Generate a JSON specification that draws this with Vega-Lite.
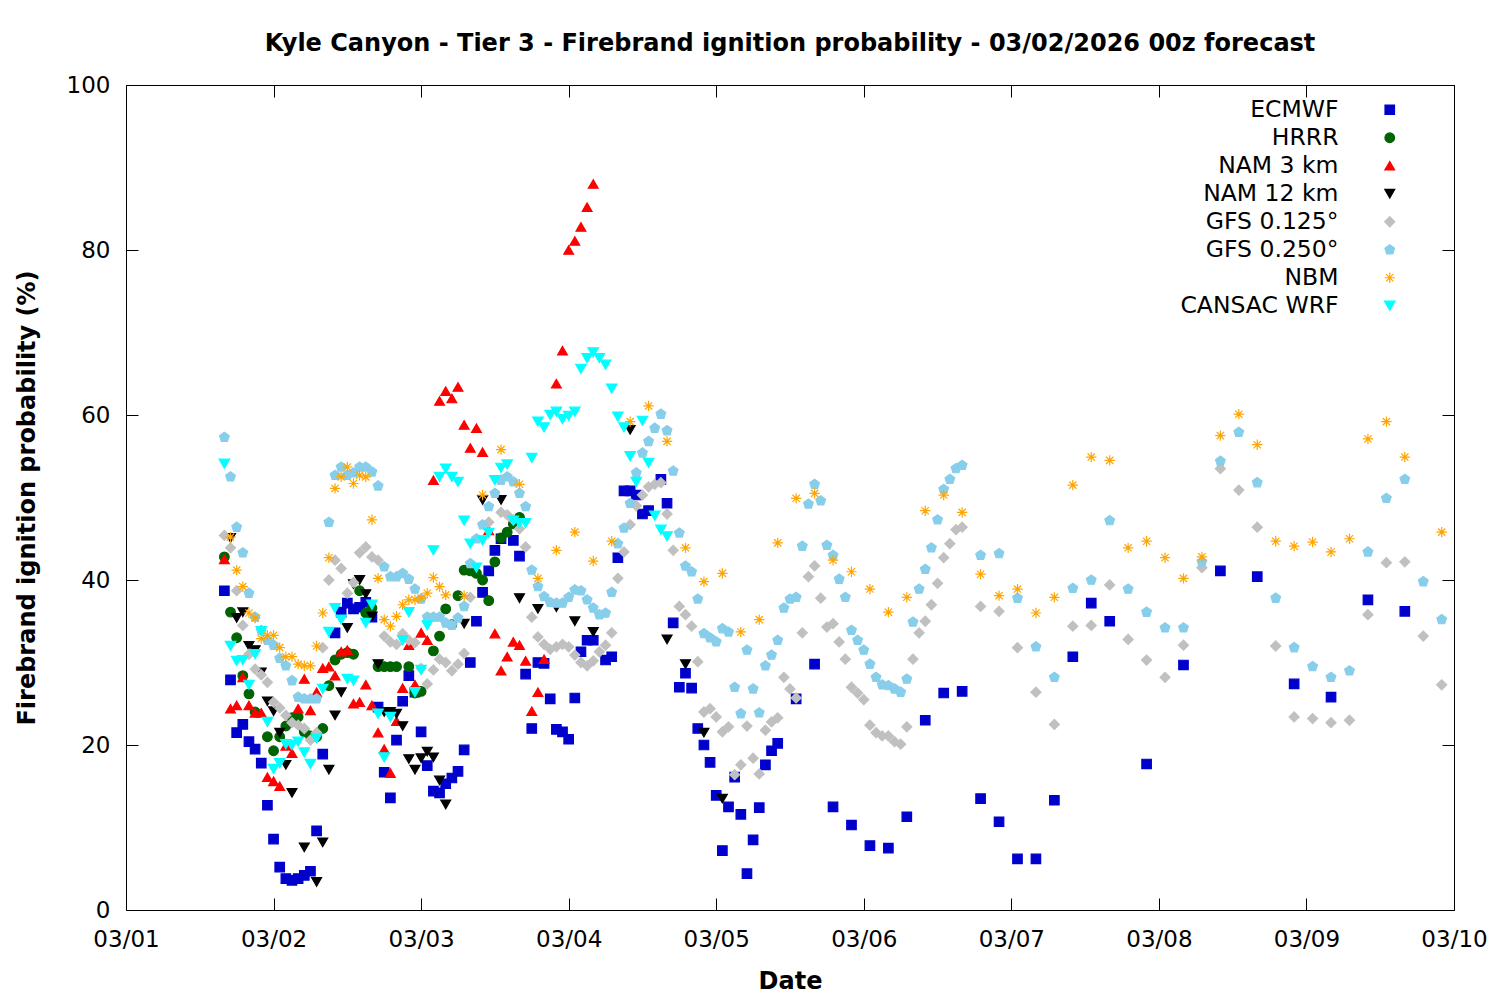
{
  "$schema": "https://vega.github.io/schema/vega-lite/v6.json",
  "width": 1328,
  "height": 825,
  "autosize": "none",
  "padding": {"left": 126, "top": 85, "right": 46, "bottom": 90},
  "background": "white",
  "title": {
    "text": "Kyle Canyon - Tier 3 - Firebrand ignition probability - 03/02/2026 00z forecast",
    "font": "DejaVu Sans",
    "fontSize": 24,
    "fontWeight": "bold",
    "color": "black",
    "anchor": "middle",
    "offset": 18
  },
  "config": {
    "font": "DejaVu Sans",
    "view": {"stroke": "black", "strokeWidth": 1},
    "axis": {
      "domain": false,
      "grid": false,
      "tickColor": "black",
      "tickSize": -12,
      "labelFlush": false,
      "labelColor": "black",
      "labelFont": "DejaVu Sans",
      "labelFontSize": 23,
      "titleColor": "black",
      "titleFont": "DejaVu Sans",
      "titleFontSize": 24,
      "titleFontWeight": "bold"
    },
    "legend": {
      "labelFont": "DejaVu Sans",
      "labelFontSize": 23.5,
      "labelColor": "black",
      "symbolStrokeWidth": 1.2
    }
  },
  "data": {
    "values": [
      {"model": "ECMWF", "hour": 16, "prob": 38.7}, {"model": "ECMWF", "hour": 17, "prob": 27.9}, {"model": "ECMWF", "hour": 18, "prob": 21.5}, {"model": "ECMWF", "hour": 19, "prob": 22.5}, {"model": "ECMWF", "hour": 20, "prob": 20.4}, {"model": "ECMWF", "hour": 21, "prob": 19.5}, {"model": "ECMWF", "hour": 22, "prob": 17.8}, {"model": "ECMWF", "hour": 23, "prob": 12.7}, {"model": "ECMWF", "hour": 24, "prob": 8.6}, {"model": "ECMWF", "hour": 25, "prob": 5.2}, {"model": "ECMWF", "hour": 26, "prob": 3.8}, {"model": "ECMWF", "hour": 27, "prob": 3.6}, {"model": "ECMWF", "hour": 28, "prob": 3.8}, {"model": "ECMWF", "hour": 29, "prob": 4.2}, {"model": "ECMWF", "hour": 30, "prob": 4.7}, {"model": "ECMWF", "hour": 31, "prob": 9.6}, {"model": "ECMWF", "hour": 32, "prob": 18.9}, {"model": "ECMWF", "hour": 34, "prob": 33.6}, {"model": "ECMWF", "hour": 35, "prob": 36.1}, {"model": "ECMWF", "hour": 36, "prob": 37.2}, {"model": "ECMWF", "hour": 37, "prob": 36.5}, {"model": "ECMWF", "hour": 38, "prob": 36.7}, {"model": "ECMWF", "hour": 39, "prob": 37.3}, {"model": "ECMWF", "hour": 40, "prob": 35.5}, {"model": "ECMWF", "hour": 41, "prob": 24.6}, {"model": "ECMWF", "hour": 42, "prob": 16.7}, {"model": "ECMWF", "hour": 43, "prob": 13.6}, {"model": "ECMWF", "hour": 44, "prob": 20.6}, {"model": "ECMWF", "hour": 45, "prob": 25.3}, {"model": "ECMWF", "hour": 46, "prob": 28.4}, {"model": "ECMWF", "hour": 47, "prob": 26.4}, {"model": "ECMWF", "hour": 48, "prob": 21.6}, {"model": "ECMWF", "hour": 49, "prob": 17.5}, {"model": "ECMWF", "hour": 50, "prob": 14.4}, {"model": "ECMWF", "hour": 51, "prob": 14.2}, {"model": "ECMWF", "hour": 52, "prob": 15.3}, {"model": "ECMWF", "hour": 53, "prob": 16}, {"model": "ECMWF", "hour": 54, "prob": 16.8}, {"model": "ECMWF", "hour": 55, "prob": 19.4}, {"model": "ECMWF", "hour": 56, "prob": 30}, {"model": "ECMWF", "hour": 57, "prob": 35}, {"model": "ECMWF", "hour": 58, "prob": 38.5}, {"model": "ECMWF", "hour": 59, "prob": 41.1}, {"model": "ECMWF", "hour": 60, "prob": 43.6}, {"model": "ECMWF", "hour": 61, "prob": 45}, {"model": "ECMWF", "hour": 63, "prob": 44.8}, {"model": "ECMWF", "hour": 64, "prob": 42.9}, {"model": "ECMWF", "hour": 65, "prob": 28.6}, {"model": "ECMWF", "hour": 66, "prob": 22}, {"model": "ECMWF", "hour": 67, "prob": 30}, {"model": "ECMWF", "hour": 68, "prob": 29.9}, {"model": "ECMWF", "hour": 69, "prob": 25.6}, {"model": "ECMWF", "hour": 70, "prob": 21.9}, {"model": "ECMWF", "hour": 71, "prob": 21.6}, {"model": "ECMWF", "hour": 72, "prob": 20.7}, {"model": "ECMWF", "hour": 73, "prob": 25.7}, {"model": "ECMWF", "hour": 74, "prob": 31.3}, {"model": "ECMWF", "hour": 75, "prob": 32.7}, {"model": "ECMWF", "hour": 76, "prob": 32.7}, {"model": "ECMWF", "hour": 78, "prob": 30.3}, {"model": "ECMWF", "hour": 79, "prob": 30.7}, {"model": "ECMWF", "hour": 80, "prob": 42.7}, {"model": "ECMWF", "hour": 81, "prob": 50.8}, {"model": "ECMWF", "hour": 82, "prob": 50.8}, {"model": "ECMWF", "hour": 83, "prob": 50.3}, {"model": "ECMWF", "hour": 84, "prob": 48}, {"model": "ECMWF", "hour": 85, "prob": 48.4}, {"model": "ECMWF", "hour": 87, "prob": 52.2}, {"model": "ECMWF", "hour": 88, "prob": 49.3}, {"model": "ECMWF", "hour": 89, "prob": 34.8}, {"model": "ECMWF", "hour": 90, "prob": 27}, {"model": "ECMWF", "hour": 91, "prob": 28.7}, {"model": "ECMWF", "hour": 92, "prob": 26.9}, {"model": "ECMWF", "hour": 93, "prob": 22}, {"model": "ECMWF", "hour": 94, "prob": 20}, {"model": "ECMWF", "hour": 95, "prob": 17.9}, {"model": "ECMWF", "hour": 96, "prob": 13.9}, {"model": "ECMWF", "hour": 97, "prob": 7.2}, {"model": "ECMWF", "hour": 98, "prob": 12.5}, {"model": "ECMWF", "hour": 99, "prob": 16.1}, {"model": "ECMWF", "hour": 100, "prob": 11.6}, {"model": "ECMWF", "hour": 101, "prob": 4.4}, {"model": "ECMWF", "hour": 102, "prob": 8.5}, {"model": "ECMWF", "hour": 103, "prob": 12.4}, {"model": "ECMWF", "hour": 104, "prob": 17.6}, {"model": "ECMWF", "hour": 105, "prob": 19.3}, {"model": "ECMWF", "hour": 106, "prob": 20.2}, {"model": "ECMWF", "hour": 109, "prob": 25.6}, {"model": "ECMWF", "hour": 112, "prob": 29.8}, {"model": "ECMWF", "hour": 115, "prob": 12.5}, {"model": "ECMWF", "hour": 118, "prob": 10.3}, {"model": "ECMWF", "hour": 121, "prob": 7.8}, {"model": "ECMWF", "hour": 124, "prob": 7.5}, {"model": "ECMWF", "hour": 127, "prob": 11.3}, {"model": "ECMWF", "hour": 130, "prob": 23}, {"model": "ECMWF", "hour": 133, "prob": 26.3}, {"model": "ECMWF", "hour": 136, "prob": 26.5}, {"model": "ECMWF", "hour": 139, "prob": 13.5}, {"model": "ECMWF", "hour": 142, "prob": 10.7}, {"model": "ECMWF", "hour": 145, "prob": 6.2}, {"model": "ECMWF", "hour": 148, "prob": 6.2}, {"model": "ECMWF", "hour": 151, "prob": 13.3}, {"model": "ECMWF", "hour": 154, "prob": 30.7}, {"model": "ECMWF", "hour": 157, "prob": 37.2}, {"model": "ECMWF", "hour": 160, "prob": 35}, {"model": "ECMWF", "hour": 166, "prob": 17.7}, {"model": "ECMWF", "hour": 172, "prob": 29.7}, {"model": "ECMWF", "hour": 178, "prob": 41.1}, {"model": "ECMWF", "hour": 184, "prob": 40.4}, {"model": "ECMWF", "hour": 190, "prob": 27.4}, {"model": "ECMWF", "hour": 196, "prob": 25.8}, {"model": "ECMWF", "hour": 202, "prob": 37.6}, {"model": "ECMWF", "hour": 208, "prob": 36.2},

      {"model": "HRRR", "hour": 16, "prob": 42.8}, {"model": "HRRR", "hour": 17, "prob": 36.1}, {"model": "HRRR", "hour": 18, "prob": 33}, {"model": "HRRR", "hour": 19, "prob": 28.4}, {"model": "HRRR", "hour": 20, "prob": 26.2}, {"model": "HRRR", "hour": 21, "prob": 24}, {"model": "HRRR", "hour": 23, "prob": 21}, {"model": "HRRR", "hour": 24, "prob": 19.3}, {"model": "HRRR", "hour": 25, "prob": 21}, {"model": "HRRR", "hour": 26, "prob": 22.3}, {"model": "HRRR", "hour": 27, "prob": 23.3}, {"model": "HRRR", "hour": 28, "prob": 23.4}, {"model": "HRRR", "hour": 29, "prob": 21.6}, {"model": "HRRR", "hour": 30, "prob": 21.1}, {"model": "HRRR", "hour": 31, "prob": 21}, {"model": "HRRR", "hour": 32, "prob": 22}, {"model": "HRRR", "hour": 33, "prob": 27.2}, {"model": "HRRR", "hour": 34, "prob": 30.3}, {"model": "HRRR", "hour": 35, "prob": 31}, {"model": "HRRR", "hour": 36, "prob": 31.2}, {"model": "HRRR", "hour": 37, "prob": 31}, {"model": "HRRR", "hour": 38, "prob": 38.7}, {"model": "HRRR", "hour": 39, "prob": 36}, {"model": "HRRR", "hour": 40, "prob": 36.6}, {"model": "HRRR", "hour": 41, "prob": 29.5}, {"model": "HRRR", "hour": 42, "prob": 29.5}, {"model": "HRRR", "hour": 43, "prob": 29.5}, {"model": "HRRR", "hour": 44, "prob": 29.5}, {"model": "HRRR", "hour": 46, "prob": 29.5}, {"model": "HRRR", "hour": 47, "prob": 26.3}, {"model": "HRRR", "hour": 48, "prob": 26.5}, {"model": "HRRR", "hour": 50, "prob": 31.4}, {"model": "HRRR", "hour": 51, "prob": 33.2}, {"model": "HRRR", "hour": 52, "prob": 36.5}, {"model": "HRRR", "hour": 53, "prob": 34.6}, {"model": "HRRR", "hour": 54, "prob": 38.1}, {"model": "HRRR", "hour": 55, "prob": 41.2}, {"model": "HRRR", "hour": 56, "prob": 41.1}, {"model": "HRRR", "hour": 57, "prob": 40.8}, {"model": "HRRR", "hour": 58, "prob": 40}, {"model": "HRRR", "hour": 59, "prob": 37.5}, {"model": "HRRR", "hour": 60, "prob": 42.2}, {"model": "HRRR", "hour": 61, "prob": 45.1}, {"model": "HRRR", "hour": 62, "prob": 45.8}, {"model": "HRRR", "hour": 63, "prob": 46.8}, {"model": "HRRR", "hour": 64, "prob": 47.6},

      {"model": "NAM 3 km", "hour": 16, "prob": 42.5}, {"model": "NAM 3 km", "hour": 17, "prob": 24.4}, {"model": "NAM 3 km", "hour": 18, "prob": 24.8}, {"model": "NAM 3 km", "hour": 19, "prob": 28.2}, {"model": "NAM 3 km", "hour": 20, "prob": 24.8}, {"model": "NAM 3 km", "hour": 21, "prob": 23.9}, {"model": "NAM 3 km", "hour": 22, "prob": 23.9}, {"model": "NAM 3 km", "hour": 23, "prob": 16.1}, {"model": "NAM 3 km", "hour": 24, "prob": 15.6}, {"model": "NAM 3 km", "hour": 25, "prob": 15}, {"model": "NAM 3 km", "hour": 26, "prob": 19.9}, {"model": "NAM 3 km", "hour": 27, "prob": 19}, {"model": "NAM 3 km", "hour": 28, "prob": 24.4}, {"model": "NAM 3 km", "hour": 29, "prob": 28}, {"model": "NAM 3 km", "hour": 30, "prob": 24.2}, {"model": "NAM 3 km", "hour": 31, "prob": 26.4}, {"model": "NAM 3 km", "hour": 32, "prob": 29.3}, {"model": "NAM 3 km", "hour": 33, "prob": 29.5}, {"model": "NAM 3 km", "hour": 34, "prob": 28.4}, {"model": "NAM 3 km", "hour": 35, "prob": 31.3}, {"model": "NAM 3 km", "hour": 36, "prob": 31.5}, {"model": "NAM 3 km", "hour": 37, "prob": 25}, {"model": "NAM 3 km", "hour": 38, "prob": 25.2}, {"model": "NAM 3 km", "hour": 39, "prob": 27.3}, {"model": "NAM 3 km", "hour": 40, "prob": 24.8}, {"model": "NAM 3 km", "hour": 41, "prob": 21.5}, {"model": "NAM 3 km", "hour": 42, "prob": 19.5}, {"model": "NAM 3 km", "hour": 43, "prob": 16.6}, {"model": "NAM 3 km", "hour": 44, "prob": 22.9}, {"model": "NAM 3 km", "hour": 45, "prob": 26.9}, {"model": "NAM 3 km", "hour": 46, "prob": 32.1}, {"model": "NAM 3 km", "hour": 47, "prob": 27.3}, {"model": "NAM 3 km", "hour": 48, "prob": 33.6}, {"model": "NAM 3 km", "hour": 49, "prob": 32.7}, {"model": "NAM 3 km", "hour": 50, "prob": 52.1}, {"model": "NAM 3 km", "hour": 51, "prob": 61.7}, {"model": "NAM 3 km", "hour": 52, "prob": 62.9}, {"model": "NAM 3 km", "hour": 53, "prob": 62}, {"model": "NAM 3 km", "hour": 54, "prob": 63.4}, {"model": "NAM 3 km", "hour": 55, "prob": 58.8}, {"model": "NAM 3 km", "hour": 56, "prob": 56}, {"model": "NAM 3 km", "hour": 57, "prob": 58.4}, {"model": "NAM 3 km", "hour": 58, "prob": 55.5}, {"model": "NAM 3 km", "hour": 59, "prob": 46}, {"model": "NAM 3 km", "hour": 60, "prob": 33.5}, {"model": "NAM 3 km", "hour": 61, "prob": 29}, {"model": "NAM 3 km", "hour": 62, "prob": 30.7}, {"model": "NAM 3 km", "hour": 63, "prob": 32.5}, {"model": "NAM 3 km", "hour": 64, "prob": 32.1}, {"model": "NAM 3 km", "hour": 65, "prob": 30.2}, {"model": "NAM 3 km", "hour": 66, "prob": 24.1}, {"model": "NAM 3 km", "hour": 67, "prob": 26.4}, {"model": "NAM 3 km", "hour": 68, "prob": 30.4}, {"model": "NAM 3 km", "hour": 70, "prob": 63.8}, {"model": "NAM 3 km", "hour": 71, "prob": 67.8}, {"model": "NAM 3 km", "hour": 72, "prob": 80}, {"model": "NAM 3 km", "hour": 73, "prob": 81.1}, {"model": "NAM 3 km", "hour": 74, "prob": 82.8}, {"model": "NAM 3 km", "hour": 75, "prob": 85.2}, {"model": "NAM 3 km", "hour": 76, "prob": 88},

      {"model": "NAM 12 km", "hour": 17, "prob": 45.1}, {"model": "NAM 12 km", "hour": 18, "prob": 35.4}, {"model": "NAM 12 km", "hour": 19, "prob": 36.1}, {"model": "NAM 12 km", "hour": 20, "prob": 32}, {"model": "NAM 12 km", "hour": 21, "prob": 31.5}, {"model": "NAM 12 km", "hour": 22, "prob": 28.8}, {"model": "NAM 12 km", "hour": 23, "prob": 25.3}, {"model": "NAM 12 km", "hour": 24, "prob": 24.1}, {"model": "NAM 12 km", "hour": 25, "prob": 21.5}, {"model": "NAM 12 km", "hour": 26, "prob": 17.6}, {"model": "NAM 12 km", "hour": 27, "prob": 14.2}, {"model": "NAM 12 km", "hour": 29, "prob": 7.6}, {"model": "NAM 12 km", "hour": 31, "prob": 3.4}, {"model": "NAM 12 km", "hour": 32, "prob": 8.2}, {"model": "NAM 12 km", "hour": 33, "prob": 17}, {"model": "NAM 12 km", "hour": 34, "prob": 23.6}, {"model": "NAM 12 km", "hour": 35, "prob": 26.4}, {"model": "NAM 12 km", "hour": 36, "prob": 34.2}, {"model": "NAM 12 km", "hour": 37, "prob": 39.5}, {"model": "NAM 12 km", "hour": 38, "prob": 40}, {"model": "NAM 12 km", "hour": 39, "prob": 38.3}, {"model": "NAM 12 km", "hour": 40, "prob": 35.6}, {"model": "NAM 12 km", "hour": 41, "prob": 29.8}, {"model": "NAM 12 km", "hour": 42, "prob": 24}, {"model": "NAM 12 km", "hour": 43, "prob": 24}, {"model": "NAM 12 km", "hour": 44, "prob": 23.8}, {"model": "NAM 12 km", "hour": 45, "prob": 22.3}, {"model": "NAM 12 km", "hour": 46, "prob": 18.3}, {"model": "NAM 12 km", "hour": 47, "prob": 17}, {"model": "NAM 12 km", "hour": 48, "prob": 18.4}, {"model": "NAM 12 km", "hour": 49, "prob": 19.2}, {"model": "NAM 12 km", "hour": 50, "prob": 18.5}, {"model": "NAM 12 km", "hour": 51, "prob": 15.7}, {"model": "NAM 12 km", "hour": 52, "prob": 12.8}, {"model": "NAM 12 km", "hour": 55, "prob": 34.7}, {"model": "NAM 12 km", "hour": 58, "prob": 49.7}, {"model": "NAM 12 km", "hour": 61, "prob": 49.7}, {"model": "NAM 12 km", "hour": 64, "prob": 37.8}, {"model": "NAM 12 km", "hour": 67, "prob": 36.5}, {"model": "NAM 12 km", "hour": 70, "prob": 36.7}, {"model": "NAM 12 km", "hour": 73, "prob": 35}, {"model": "NAM 12 km", "hour": 76, "prob": 33.7}, {"model": "NAM 12 km", "hour": 82, "prob": 58.2}, {"model": "NAM 12 km", "hour": 88, "prob": 32.8}, {"model": "NAM 12 km", "hour": 91, "prob": 29.8}, {"model": "NAM 12 km", "hour": 94, "prob": 21.5}, {"model": "NAM 12 km", "hour": 97, "prob": 13.5},

      {"model": "GFS 0.125°", "hour": 16, "prob": 45.4}, {"model": "GFS 0.125°", "hour": 17, "prob": 43.9}, {"model": "GFS 0.125°", "hour": 18, "prob": 38.7}, {"model": "GFS 0.125°", "hour": 19, "prob": 34.5}, {"model": "GFS 0.125°", "hour": 20, "prob": 31}, {"model": "GFS 0.125°", "hour": 21, "prob": 29.2}, {"model": "GFS 0.125°", "hour": 22, "prob": 28.5}, {"model": "GFS 0.125°", "hour": 23, "prob": 27.6}, {"model": "GFS 0.125°", "hour": 24, "prob": 25.2}, {"model": "GFS 0.125°", "hour": 25, "prob": 24.5}, {"model": "GFS 0.125°", "hour": 26, "prob": 23.6}, {"model": "GFS 0.125°", "hour": 27, "prob": 22.7}, {"model": "GFS 0.125°", "hour": 28, "prob": 22.4}, {"model": "GFS 0.125°", "hour": 29, "prob": 22}, {"model": "GFS 0.125°", "hour": 30, "prob": 20.6}, {"model": "GFS 0.125°", "hour": 31, "prob": 21.5}, {"model": "GFS 0.125°", "hour": 32, "prob": 31.8}, {"model": "GFS 0.125°", "hour": 33, "prob": 40}, {"model": "GFS 0.125°", "hour": 34, "prob": 42.4}, {"model": "GFS 0.125°", "hour": 35, "prob": 41.4}, {"model": "GFS 0.125°", "hour": 36, "prob": 38.4}, {"model": "GFS 0.125°", "hour": 37, "prob": 39.7}, {"model": "GFS 0.125°", "hour": 38, "prob": 43.3}, {"model": "GFS 0.125°", "hour": 39, "prob": 44}, {"model": "GFS 0.125°", "hour": 40, "prob": 42.8}, {"model": "GFS 0.125°", "hour": 41, "prob": 42.4}, {"model": "GFS 0.125°", "hour": 42, "prob": 33.2}, {"model": "GFS 0.125°", "hour": 43, "prob": 32.5}, {"model": "GFS 0.125°", "hour": 44, "prob": 32.2}, {"model": "GFS 0.125°", "hour": 45, "prob": 33.5}, {"model": "GFS 0.125°", "hour": 46, "prob": 32.7}, {"model": "GFS 0.125°", "hour": 47, "prob": 32.4}, {"model": "GFS 0.125°", "hour": 48, "prob": 29.3}, {"model": "GFS 0.125°", "hour": 49, "prob": 27.4}, {"model": "GFS 0.125°", "hour": 50, "prob": 29.1}, {"model": "GFS 0.125°", "hour": 51, "prob": 30.4}, {"model": "GFS 0.125°", "hour": 52, "prob": 30}, {"model": "GFS 0.125°", "hour": 53, "prob": 29}, {"model": "GFS 0.125°", "hour": 54, "prob": 29.8}, {"model": "GFS 0.125°", "hour": 55, "prob": 31.1}, {"model": "GFS 0.125°", "hour": 56, "prob": 37.9}, {"model": "GFS 0.125°", "hour": 59, "prob": 47}, {"model": "GFS 0.125°", "hour": 61, "prob": 48.2}, {"model": "GFS 0.125°", "hour": 62, "prob": 47.9}, {"model": "GFS 0.125°", "hour": 63, "prob": 47.3}, {"model": "GFS 0.125°", "hour": 64, "prob": 46.2}, {"model": "GFS 0.125°", "hour": 65, "prob": 44}, {"model": "GFS 0.125°", "hour": 66, "prob": 35.5}, {"model": "GFS 0.125°", "hour": 67, "prob": 33.1}, {"model": "GFS 0.125°", "hour": 68, "prob": 32.2}, {"model": "GFS 0.125°", "hour": 69, "prob": 31.6}, {"model": "GFS 0.125°", "hour": 70, "prob": 31.9}, {"model": "GFS 0.125°", "hour": 71, "prob": 32.2}, {"model": "GFS 0.125°", "hour": 72, "prob": 31.9}, {"model": "GFS 0.125°", "hour": 73, "prob": 30.9}, {"model": "GFS 0.125°", "hour": 74, "prob": 30}, {"model": "GFS 0.125°", "hour": 75, "prob": 29.6}, {"model": "GFS 0.125°", "hour": 76, "prob": 30.2}, {"model": "GFS 0.125°", "hour": 77, "prob": 31.3}, {"model": "GFS 0.125°", "hour": 78, "prob": 32.1}, {"model": "GFS 0.125°", "hour": 79, "prob": 33.6}, {"model": "GFS 0.125°", "hour": 80, "prob": 40.2}, {"model": "GFS 0.125°", "hour": 81, "prob": 43.4}, {"model": "GFS 0.125°", "hour": 82, "prob": 46.7}, {"model": "GFS 0.125°", "hour": 83, "prob": 49}, {"model": "GFS 0.125°", "hour": 84, "prob": 50.3}, {"model": "GFS 0.125°", "hour": 85, "prob": 51.3}, {"model": "GFS 0.125°", "hour": 86, "prob": 51.6}, {"model": "GFS 0.125°", "hour": 87, "prob": 51.8}, {"model": "GFS 0.125°", "hour": 88, "prob": 48}, {"model": "GFS 0.125°", "hour": 89, "prob": 43.6}, {"model": "GFS 0.125°", "hour": 90, "prob": 36.8}, {"model": "GFS 0.125°", "hour": 91, "prob": 35.8}, {"model": "GFS 0.125°", "hour": 92, "prob": 34.4}, {"model": "GFS 0.125°", "hour": 93, "prob": 30.1}, {"model": "GFS 0.125°", "hour": 94, "prob": 24}, {"model": "GFS 0.125°", "hour": 95, "prob": 24.4}, {"model": "GFS 0.125°", "hour": 96, "prob": 23.4}, {"model": "GFS 0.125°", "hour": 97, "prob": 21.6}, {"model": "GFS 0.125°", "hour": 98, "prob": 22.2}, {"model": "GFS 0.125°", "hour": 99, "prob": 16.4}, {"model": "GFS 0.125°", "hour": 100, "prob": 17.6}, {"model": "GFS 0.125°", "hour": 101, "prob": 22.3}, {"model": "GFS 0.125°", "hour": 102, "prob": 18.4}, {"model": "GFS 0.125°", "hour": 103, "prob": 16.5}, {"model": "GFS 0.125°", "hour": 104, "prob": 21.8}, {"model": "GFS 0.125°", "hour": 105, "prob": 22.8}, {"model": "GFS 0.125°", "hour": 106, "prob": 23.3}, {"model": "GFS 0.125°", "hour": 107, "prob": 28.2}, {"model": "GFS 0.125°", "hour": 108, "prob": 26.8}, {"model": "GFS 0.125°", "hour": 109, "prob": 25.7}, {"model": "GFS 0.125°", "hour": 110, "prob": 33.6}, {"model": "GFS 0.125°", "hour": 111, "prob": 40.4}, {"model": "GFS 0.125°", "hour": 112, "prob": 41.7}, {"model": "GFS 0.125°", "hour": 113, "prob": 37.8}, {"model": "GFS 0.125°", "hour": 114, "prob": 34.3}, {"model": "GFS 0.125°", "hour": 115, "prob": 34.7}, {"model": "GFS 0.125°", "hour": 116, "prob": 32.5}, {"model": "GFS 0.125°", "hour": 117, "prob": 30.4}, {"model": "GFS 0.125°", "hour": 118, "prob": 27}, {"model": "GFS 0.125°", "hour": 119, "prob": 26.3}, {"model": "GFS 0.125°", "hour": 120, "prob": 25.5}, {"model": "GFS 0.125°", "hour": 121, "prob": 22.4}, {"model": "GFS 0.125°", "hour": 122, "prob": 21.5}, {"model": "GFS 0.125°", "hour": 123, "prob": 21.1}, {"model": "GFS 0.125°", "hour": 124, "prob": 21.1}, {"model": "GFS 0.125°", "hour": 125, "prob": 20.4}, {"model": "GFS 0.125°", "hour": 126, "prob": 20.1}, {"model": "GFS 0.125°", "hour": 127, "prob": 22.2}, {"model": "GFS 0.125°", "hour": 128, "prob": 30.4}, {"model": "GFS 0.125°", "hour": 129, "prob": 33.6}, {"model": "GFS 0.125°", "hour": 130, "prob": 35}, {"model": "GFS 0.125°", "hour": 131, "prob": 37}, {"model": "GFS 0.125°", "hour": 132, "prob": 39.6}, {"model": "GFS 0.125°", "hour": 133, "prob": 42.7}, {"model": "GFS 0.125°", "hour": 134, "prob": 44.4}, {"model": "GFS 0.125°", "hour": 135, "prob": 46.1}, {"model": "GFS 0.125°", "hour": 136, "prob": 46.4}, {"model": "GFS 0.125°", "hour": 139, "prob": 36.8}, {"model": "GFS 0.125°", "hour": 142, "prob": 36.2}, {"model": "GFS 0.125°", "hour": 145, "prob": 31.8}, {"model": "GFS 0.125°", "hour": 148, "prob": 26.4}, {"model": "GFS 0.125°", "hour": 151, "prob": 22.5}, {"model": "GFS 0.125°", "hour": 154, "prob": 34.4}, {"model": "GFS 0.125°", "hour": 157, "prob": 34.5}, {"model": "GFS 0.125°", "hour": 160, "prob": 39.4}, {"model": "GFS 0.125°", "hour": 163, "prob": 32.8}, {"model": "GFS 0.125°", "hour": 166, "prob": 30.3}, {"model": "GFS 0.125°", "hour": 169, "prob": 28.2}, {"model": "GFS 0.125°", "hour": 172, "prob": 32.1}, {"model": "GFS 0.125°", "hour": 175, "prob": 41.5}, {"model": "GFS 0.125°", "hour": 178, "prob": 53.5}, {"model": "GFS 0.125°", "hour": 181, "prob": 50.9}, {"model": "GFS 0.125°", "hour": 184, "prob": 46.4}, {"model": "GFS 0.125°", "hour": 187, "prob": 32}, {"model": "GFS 0.125°", "hour": 190, "prob": 23.4}, {"model": "GFS 0.125°", "hour": 193, "prob": 23.2}, {"model": "GFS 0.125°", "hour": 196, "prob": 22.7}, {"model": "GFS 0.125°", "hour": 199, "prob": 23}, {"model": "GFS 0.125°", "hour": 202, "prob": 35.8}, {"model": "GFS 0.125°", "hour": 205, "prob": 42.1}, {"model": "GFS 0.125°", "hour": 208, "prob": 42.2}, {"model": "GFS 0.125°", "hour": 211, "prob": 33.2}, {"model": "GFS 0.125°", "hour": 214, "prob": 27.3},

      {"model": "GFS 0.250°", "hour": 16, "prob": 57.3}, {"model": "GFS 0.250°", "hour": 17, "prob": 52.5}, {"model": "GFS 0.250°", "hour": 18, "prob": 46.4}, {"model": "GFS 0.250°", "hour": 19, "prob": 43.3}, {"model": "GFS 0.250°", "hour": 20, "prob": 38.4}, {"model": "GFS 0.250°", "hour": 21, "prob": 35.5}, {"model": "GFS 0.250°", "hour": 22, "prob": 33.9}, {"model": "GFS 0.250°", "hour": 23, "prob": 32.7}, {"model": "GFS 0.250°", "hour": 24, "prob": 32.1}, {"model": "GFS 0.250°", "hour": 25, "prob": 30.5}, {"model": "GFS 0.250°", "hour": 26, "prob": 29.6}, {"model": "GFS 0.250°", "hour": 27, "prob": 27.8}, {"model": "GFS 0.250°", "hour": 28, "prob": 25.8}, {"model": "GFS 0.250°", "hour": 29, "prob": 25.6}, {"model": "GFS 0.250°", "hour": 30, "prob": 25.6}, {"model": "GFS 0.250°", "hour": 31, "prob": 25.6}, {"model": "GFS 0.250°", "hour": 33, "prob": 47}, {"model": "GFS 0.250°", "hour": 34, "prob": 52.7}, {"model": "GFS 0.250°", "hour": 35, "prob": 53.7}, {"model": "GFS 0.250°", "hour": 36, "prob": 52.7}, {"model": "GFS 0.250°", "hour": 37, "prob": 53}, {"model": "GFS 0.250°", "hour": 38, "prob": 53.7}, {"model": "GFS 0.250°", "hour": 39, "prob": 53.7}, {"model": "GFS 0.250°", "hour": 40, "prob": 53.1}, {"model": "GFS 0.250°", "hour": 41, "prob": 51.4}, {"model": "GFS 0.250°", "hour": 42, "prob": 41.6}, {"model": "GFS 0.250°", "hour": 43, "prob": 40.4}, {"model": "GFS 0.250°", "hour": 44, "prob": 40.4}, {"model": "GFS 0.250°", "hour": 45, "prob": 40.8}, {"model": "GFS 0.250°", "hour": 46, "prob": 40.1}, {"model": "GFS 0.250°", "hour": 47, "prob": 38.9}, {"model": "GFS 0.250°", "hour": 48, "prob": 37.7}, {"model": "GFS 0.250°", "hour": 49, "prob": 35.5}, {"model": "GFS 0.250°", "hour": 50, "prob": 35.5}, {"model": "GFS 0.250°", "hour": 51, "prob": 35.5}, {"model": "GFS 0.250°", "hour": 52, "prob": 34.8}, {"model": "GFS 0.250°", "hour": 53, "prob": 34.5}, {"model": "GFS 0.250°", "hour": 54, "prob": 35.4}, {"model": "GFS 0.250°", "hour": 55, "prob": 36.8}, {"model": "GFS 0.250°", "hour": 56, "prob": 42}, {"model": "GFS 0.250°", "hour": 57, "prob": 45}, {"model": "GFS 0.250°", "hour": 58, "prob": 46.7}, {"model": "GFS 0.250°", "hour": 59, "prob": 48.9}, {"model": "GFS 0.250°", "hour": 60, "prob": 50.5}, {"model": "GFS 0.250°", "hour": 61, "prob": 52.1}, {"model": "GFS 0.250°", "hour": 62, "prob": 52.5}, {"model": "GFS 0.250°", "hour": 63, "prob": 51.9}, {"model": "GFS 0.250°", "hour": 64, "prob": 50.5}, {"model": "GFS 0.250°", "hour": 65, "prob": 48.9}, {"model": "GFS 0.250°", "hour": 66, "prob": 41.2}, {"model": "GFS 0.250°", "hour": 67, "prob": 39.2}, {"model": "GFS 0.250°", "hour": 68, "prob": 38}, {"model": "GFS 0.250°", "hour": 69, "prob": 37.3}, {"model": "GFS 0.250°", "hour": 70, "prob": 37.2}, {"model": "GFS 0.250°", "hour": 71, "prob": 37.2}, {"model": "GFS 0.250°", "hour": 72, "prob": 37.9}, {"model": "GFS 0.250°", "hour": 73, "prob": 38.8}, {"model": "GFS 0.250°", "hour": 74, "prob": 38.7}, {"model": "GFS 0.250°", "hour": 75, "prob": 37.6}, {"model": "GFS 0.250°", "hour": 76, "prob": 36.6}, {"model": "GFS 0.250°", "hour": 77, "prob": 35.8}, {"model": "GFS 0.250°", "hour": 78, "prob": 36}, {"model": "GFS 0.250°", "hour": 79, "prob": 38.5}, {"model": "GFS 0.250°", "hour": 80, "prob": 44.4}, {"model": "GFS 0.250°", "hour": 81, "prob": 46.3}, {"model": "GFS 0.250°", "hour": 82, "prob": 49.3}, {"model": "GFS 0.250°", "hour": 83, "prob": 53}, {"model": "GFS 0.250°", "hour": 84, "prob": 55.4}, {"model": "GFS 0.250°", "hour": 85, "prob": 56.8}, {"model": "GFS 0.250°", "hour": 86, "prob": 58.4}, {"model": "GFS 0.250°", "hour": 87, "prob": 60.1}, {"model": "GFS 0.250°", "hour": 88, "prob": 58.1}, {"model": "GFS 0.250°", "hour": 89, "prob": 53.2}, {"model": "GFS 0.250°", "hour": 90, "prob": 45.7}, {"model": "GFS 0.250°", "hour": 91, "prob": 41.7}, {"model": "GFS 0.250°", "hour": 92, "prob": 41}, {"model": "GFS 0.250°", "hour": 93, "prob": 37.7}, {"model": "GFS 0.250°", "hour": 94, "prob": 33.5}, {"model": "GFS 0.250°", "hour": 95, "prob": 33}, {"model": "GFS 0.250°", "hour": 96, "prob": 32.5}, {"model": "GFS 0.250°", "hour": 97, "prob": 34.1}, {"model": "GFS 0.250°", "hour": 98, "prob": 33.7}, {"model": "GFS 0.250°", "hour": 99, "prob": 27}, {"model": "GFS 0.250°", "hour": 100, "prob": 23.8}, {"model": "GFS 0.250°", "hour": 101, "prob": 31.5}, {"model": "GFS 0.250°", "hour": 102, "prob": 26.8}, {"model": "GFS 0.250°", "hour": 103, "prob": 23.9}, {"model": "GFS 0.250°", "hour": 104, "prob": 29.6}, {"model": "GFS 0.250°", "hour": 105, "prob": 30.9}, {"model": "GFS 0.250°", "hour": 106, "prob": 32.7}, {"model": "GFS 0.250°", "hour": 107, "prob": 36.6}, {"model": "GFS 0.250°", "hour": 108, "prob": 37.7}, {"model": "GFS 0.250°", "hour": 109, "prob": 37.9}, {"model": "GFS 0.250°", "hour": 110, "prob": 44.1}, {"model": "GFS 0.250°", "hour": 111, "prob": 49.2}, {"model": "GFS 0.250°", "hour": 112, "prob": 51.6}, {"model": "GFS 0.250°", "hour": 113, "prob": 49.6}, {"model": "GFS 0.250°", "hour": 114, "prob": 44.2}, {"model": "GFS 0.250°", "hour": 115, "prob": 43}, {"model": "GFS 0.250°", "hour": 116, "prob": 40.1}, {"model": "GFS 0.250°", "hour": 117, "prob": 37.9}, {"model": "GFS 0.250°", "hour": 118, "prob": 33.9}, {"model": "GFS 0.250°", "hour": 119, "prob": 32.7}, {"model": "GFS 0.250°", "hour": 120, "prob": 31.5}, {"model": "GFS 0.250°", "hour": 121, "prob": 29.8}, {"model": "GFS 0.250°", "hour": 122, "prob": 28.2}, {"model": "GFS 0.250°", "hour": 123, "prob": 27.3}, {"model": "GFS 0.250°", "hour": 124, "prob": 27.2}, {"model": "GFS 0.250°", "hour": 125, "prob": 26.8}, {"model": "GFS 0.250°", "hour": 126, "prob": 26.4}, {"model": "GFS 0.250°", "hour": 127, "prob": 28}, {"model": "GFS 0.250°", "hour": 128, "prob": 34.9}, {"model": "GFS 0.250°", "hour": 129, "prob": 38.9}, {"model": "GFS 0.250°", "hour": 130, "prob": 41.3}, {"model": "GFS 0.250°", "hour": 131, "prob": 43.9}, {"model": "GFS 0.250°", "hour": 132, "prob": 47.3}, {"model": "GFS 0.250°", "hour": 133, "prob": 51}, {"model": "GFS 0.250°", "hour": 134, "prob": 52.2}, {"model": "GFS 0.250°", "hour": 135, "prob": 53.5}, {"model": "GFS 0.250°", "hour": 136, "prob": 53.9}, {"model": "GFS 0.250°", "hour": 139, "prob": 43}, {"model": "GFS 0.250°", "hour": 142, "prob": 43.2}, {"model": "GFS 0.250°", "hour": 145, "prob": 37.8}, {"model": "GFS 0.250°", "hour": 148, "prob": 31.9}, {"model": "GFS 0.250°", "hour": 151, "prob": 28.2}, {"model": "GFS 0.250°", "hour": 154, "prob": 39}, {"model": "GFS 0.250°", "hour": 157, "prob": 40}, {"model": "GFS 0.250°", "hour": 160, "prob": 47.2}, {"model": "GFS 0.250°", "hour": 163, "prob": 38.9}, {"model": "GFS 0.250°", "hour": 166, "prob": 36.1}, {"model": "GFS 0.250°", "hour": 169, "prob": 34.2}, {"model": "GFS 0.250°", "hour": 172, "prob": 34.2}, {"model": "GFS 0.250°", "hour": 175, "prob": 42.2}, {"model": "GFS 0.250°", "hour": 178, "prob": 54.4}, {"model": "GFS 0.250°", "hour": 181, "prob": 57.9}, {"model": "GFS 0.250°", "hour": 184, "prob": 51.8}, {"model": "GFS 0.250°", "hour": 187, "prob": 37.8}, {"model": "GFS 0.250°", "hour": 190, "prob": 31.8}, {"model": "GFS 0.250°", "hour": 193, "prob": 29.5}, {"model": "GFS 0.250°", "hour": 196, "prob": 28.2}, {"model": "GFS 0.250°", "hour": 199, "prob": 29}, {"model": "GFS 0.250°", "hour": 202, "prob": 43.4}, {"model": "GFS 0.250°", "hour": 205, "prob": 49.9}, {"model": "GFS 0.250°", "hour": 208, "prob": 52.2}, {"model": "GFS 0.250°", "hour": 211, "prob": 39.8}, {"model": "GFS 0.250°", "hour": 214, "prob": 35.2},

      {"model": "NBM", "hour": 17, "prob": 45.2}, {"model": "NBM", "hour": 18, "prob": 41.2}, {"model": "NBM", "hour": 19, "prob": 39.2}, {"model": "NBM", "hour": 20, "prob": 36}, {"model": "NBM", "hour": 21, "prob": 35.4}, {"model": "NBM", "hour": 22, "prob": 32.9}, {"model": "NBM", "hour": 23, "prob": 33.3}, {"model": "NBM", "hour": 24, "prob": 33.3}, {"model": "NBM", "hour": 25, "prob": 31.8}, {"model": "NBM", "hour": 26, "prob": 30.7}, {"model": "NBM", "hour": 27, "prob": 30.7}, {"model": "NBM", "hour": 28, "prob": 29.8}, {"model": "NBM", "hour": 29, "prob": 29.6}, {"model": "NBM", "hour": 30, "prob": 29.6}, {"model": "NBM", "hour": 31, "prob": 32}, {"model": "NBM", "hour": 32, "prob": 36}, {"model": "NBM", "hour": 33, "prob": 42.7}, {"model": "NBM", "hour": 34, "prob": 51.1}, {"model": "NBM", "hour": 35, "prob": 52.5}, {"model": "NBM", "hour": 36, "prob": 53.7}, {"model": "NBM", "hour": 37, "prob": 51.7}, {"model": "NBM", "hour": 38, "prob": 52.7}, {"model": "NBM", "hour": 39, "prob": 52.5}, {"model": "NBM", "hour": 40, "prob": 47.3}, {"model": "NBM", "hour": 41, "prob": 40.2}, {"model": "NBM", "hour": 42, "prob": 35.2}, {"model": "NBM", "hour": 43, "prob": 34.4}, {"model": "NBM", "hour": 44, "prob": 35.6}, {"model": "NBM", "hour": 45, "prob": 37}, {"model": "NBM", "hour": 46, "prob": 37.6}, {"model": "NBM", "hour": 47, "prob": 37.6}, {"model": "NBM", "hour": 48, "prob": 37.8}, {"model": "NBM", "hour": 49, "prob": 38.4}, {"model": "NBM", "hour": 50, "prob": 40.3}, {"model": "NBM", "hour": 51, "prob": 39.2}, {"model": "NBM", "hour": 52, "prob": 38.2}, {"model": "NBM", "hour": 55, "prob": 38.1}, {"model": "NBM", "hour": 58, "prob": 50.3}, {"model": "NBM", "hour": 61, "prob": 55.8}, {"model": "NBM", "hour": 64, "prob": 51.6}, {"model": "NBM", "hour": 67, "prob": 40.2}, {"model": "NBM", "hour": 70, "prob": 43.6}, {"model": "NBM", "hour": 73, "prob": 45.8}, {"model": "NBM", "hour": 76, "prob": 42.3}, {"model": "NBM", "hour": 79, "prob": 44.7}, {"model": "NBM", "hour": 82, "prob": 59.2}, {"model": "NBM", "hour": 85, "prob": 61.1}, {"model": "NBM", "hour": 88, "prob": 56.8}, {"model": "NBM", "hour": 91, "prob": 43.9}, {"model": "NBM", "hour": 94, "prob": 39.8}, {"model": "NBM", "hour": 97, "prob": 40.8}, {"model": "NBM", "hour": 100, "prob": 33.7}, {"model": "NBM", "hour": 103, "prob": 35.2}, {"model": "NBM", "hour": 106, "prob": 44.5}, {"model": "NBM", "hour": 109, "prob": 49.9}, {"model": "NBM", "hour": 112, "prob": 50.5}, {"model": "NBM", "hour": 115, "prob": 42.4}, {"model": "NBM", "hour": 118, "prob": 41}, {"model": "NBM", "hour": 121, "prob": 38.9}, {"model": "NBM", "hour": 124, "prob": 36.1}, {"model": "NBM", "hour": 127, "prob": 37.9}, {"model": "NBM", "hour": 130, "prob": 48.4}, {"model": "NBM", "hour": 133, "prob": 50.3}, {"model": "NBM", "hour": 136, "prob": 48.2}, {"model": "NBM", "hour": 139, "prob": 40.7}, {"model": "NBM", "hour": 142, "prob": 38.1}, {"model": "NBM", "hour": 145, "prob": 38.9}, {"model": "NBM", "hour": 148, "prob": 36}, {"model": "NBM", "hour": 151, "prob": 37.9}, {"model": "NBM", "hour": 154, "prob": 51.5}, {"model": "NBM", "hour": 157, "prob": 54.9}, {"model": "NBM", "hour": 160, "prob": 54.5}, {"model": "NBM", "hour": 163, "prob": 43.9}, {"model": "NBM", "hour": 166, "prob": 44.7}, {"model": "NBM", "hour": 169, "prob": 42.7}, {"model": "NBM", "hour": 172, "prob": 40.2}, {"model": "NBM", "hour": 175, "prob": 42.8}, {"model": "NBM", "hour": 178, "prob": 57.5}, {"model": "NBM", "hour": 181, "prob": 60.1}, {"model": "NBM", "hour": 184, "prob": 56.4}, {"model": "NBM", "hour": 187, "prob": 44.7}, {"model": "NBM", "hour": 190, "prob": 44.1}, {"model": "NBM", "hour": 193, "prob": 44.6}, {"model": "NBM", "hour": 196, "prob": 43.4}, {"model": "NBM", "hour": 199, "prob": 45}, {"model": "NBM", "hour": 202, "prob": 57.1}, {"model": "NBM", "hour": 205, "prob": 59.2}, {"model": "NBM", "hour": 208, "prob": 54.9}, {"model": "NBM", "hour": 214, "prob": 45.8},

      {"model": "CANSAC WRF", "hour": 16, "prob": 54.1}, {"model": "CANSAC WRF", "hour": 17, "prob": 32}, {"model": "CANSAC WRF", "hour": 18, "prob": 30.2}, {"model": "CANSAC WRF", "hour": 19, "prob": 30.3}, {"model": "CANSAC WRF", "hour": 20, "prob": 27.3}, {"model": "CANSAC WRF", "hour": 21, "prob": 31}, {"model": "CANSAC WRF", "hour": 22, "prob": 33.8}, {"model": "CANSAC WRF", "hour": 23, "prob": 22.8}, {"model": "CANSAC WRF", "hour": 24, "prob": 17.1}, {"model": "CANSAC WRF", "hour": 25, "prob": 17.8}, {"model": "CANSAC WRF", "hour": 26, "prob": 20.1}, {"model": "CANSAC WRF", "hour": 27, "prob": 20}, {"model": "CANSAC WRF", "hour": 28, "prob": 20.4}, {"model": "CANSAC WRF", "hour": 29, "prob": 19.1}, {"model": "CANSAC WRF", "hour": 30, "prob": 17.7}, {"model": "CANSAC WRF", "hour": 31, "prob": 20.8}, {"model": "CANSAC WRF", "hour": 32, "prob": 26.8}, {"model": "CANSAC WRF", "hour": 33, "prob": 33.7}, {"model": "CANSAC WRF", "hour": 34, "prob": 36.6}, {"model": "CANSAC WRF", "hour": 35, "prob": 35.2}, {"model": "CANSAC WRF", "hour": 36, "prob": 28}, {"model": "CANSAC WRF", "hour": 37, "prob": 27.8}, {"model": "CANSAC WRF", "hour": 39, "prob": 34.8}, {"model": "CANSAC WRF", "hour": 40, "prob": 37}, {"model": "CANSAC WRF", "hour": 41, "prob": 23.8}, {"model": "CANSAC WRF", "hour": 42, "prob": 18.5}, {"model": "CANSAC WRF", "hour": 43, "prob": 23.4}, {"model": "CANSAC WRF", "hour": 45, "prob": 32.7}, {"model": "CANSAC WRF", "hour": 46, "prob": 36.1}, {"model": "CANSAC WRF", "hour": 47, "prob": 26.4}, {"model": "CANSAC WRF", "hour": 48, "prob": 29.1}, {"model": "CANSAC WRF", "hour": 49, "prob": 34.5}, {"model": "CANSAC WRF", "hour": 50, "prob": 43.6}, {"model": "CANSAC WRF", "hour": 51, "prob": 52.5}, {"model": "CANSAC WRF", "hour": 52, "prob": 53.5}, {"model": "CANSAC WRF", "hour": 53, "prob": 52.5}, {"model": "CANSAC WRF", "hour": 54, "prob": 51.9}, {"model": "CANSAC WRF", "hour": 55, "prob": 47.2}, {"model": "CANSAC WRF", "hour": 56, "prob": 44.4}, {"model": "CANSAC WRF", "hour": 57, "prob": 41.5}, {"model": "CANSAC WRF", "hour": 58, "prob": 44.8}, {"model": "CANSAC WRF", "hour": 59, "prob": 45.7}, {"model": "CANSAC WRF", "hour": 60, "prob": 52.1}, {"model": "CANSAC WRF", "hour": 61, "prob": 53.6}, {"model": "CANSAC WRF", "hour": 62, "prob": 54}, {"model": "CANSAC WRF", "hour": 63, "prob": 47.2}, {"model": "CANSAC WRF", "hour": 64, "prob": 46.9}, {"model": "CANSAC WRF", "hour": 65, "prob": 46.9}, {"model": "CANSAC WRF", "hour": 66, "prob": 54.8}, {"model": "CANSAC WRF", "hour": 67, "prob": 59.2}, {"model": "CANSAC WRF", "hour": 68, "prob": 58.5}, {"model": "CANSAC WRF", "hour": 69, "prob": 60}, {"model": "CANSAC WRF", "hour": 70, "prob": 60.4}, {"model": "CANSAC WRF", "hour": 71, "prob": 59.5}, {"model": "CANSAC WRF", "hour": 72, "prob": 59.9}, {"model": "CANSAC WRF", "hour": 73, "prob": 60.4}, {"model": "CANSAC WRF", "hour": 74, "prob": 65.6}, {"model": "CANSAC WRF", "hour": 75, "prob": 66.9}, {"model": "CANSAC WRF", "hour": 76, "prob": 67.6}, {"model": "CANSAC WRF", "hour": 77, "prob": 66.9}, {"model": "CANSAC WRF", "hour": 78, "prob": 66.1}, {"model": "CANSAC WRF", "hour": 79, "prob": 63.2}, {"model": "CANSAC WRF", "hour": 80, "prob": 59.8}, {"model": "CANSAC WRF", "hour": 81, "prob": 58.5}, {"model": "CANSAC WRF", "hour": 82, "prob": 55}, {"model": "CANSAC WRF", "hour": 83, "prob": 51.9}, {"model": "CANSAC WRF", "hour": 84, "prob": 59.3}, {"model": "CANSAC WRF", "hour": 85, "prob": 54.2}, {"model": "CANSAC WRF", "hour": 86, "prob": 47.8}, {"model": "CANSAC WRF", "hour": 87, "prob": 46.1}, {"model": "CANSAC WRF", "hour": 88, "prob": 45.3}
    ]
  },
  "layer": [
    {
      "mark": {"type": "point", "filled": true, "opacity": 1, "strokeWidth": 1.2},
      "encoding": {
        "x": {
          "field": "hour",
          "type": "quantitative",
          "scale": {"domain": [0, 216], "nice": false, "zero": false},
          "axis": {
            "values": [0, 24, 48, 72, 96, 120, 144, 168, 192, 216],
            "labelExpr": "'03/' + (datum.value < 216 ? '0' : '') + (datum.value / 24 + 1)",
            "labelPadding": 30,
            "title": "Date",
            "titlePadding": 18
          }
        },
        "y": {
          "field": "prob",
          "type": "quantitative",
          "scale": {"domain": [0, 100], "nice": false},
          "axis": {
            "values": [0, 20, 40, 60, 80, 100],
            "labelPadding": 28,
            "title": "Firebrand ignition probability (%)",
            "titlePadding": 27
          }
        },
        "fill": {
          "field": "model",
          "type": "nominal",
          "scale": {
            "domain": ["ECMWF", "HRRR", "NAM 3 km", "NAM 12 km", "GFS 0.125°", "GFS 0.250°", "NBM", "CANSAC WRF"],
            "range": ["#0000cc", "#006400", "#ff0000", "#000000", "#c0c0c0", "#87ceeb", "#ffa500", "#00ffff"]
          },
          "legend": {
            "title": null,
            "orient": "none",
            "legendX": 1252,
            "legendY": 13,
            "labelAlign": "right",
            "labelOffset": -63,
            "labelLimit": 0,
            "rowPadding": 3
          }
        },
        "stroke": {
          "field": "model",
          "type": "nominal",
          "scale": {
            "domain": ["ECMWF", "HRRR", "NAM 3 km", "NAM 12 km", "GFS 0.125°", "GFS 0.250°", "NBM", "CANSAC WRF"],
            "range": ["#0000cc", "#006400", "#ff0000", "#000000", "#c0c0c0", "#87ceeb", "#ffa500", "#00ffff"]
          },
          "legend": {
            "title": null,
            "orient": "none",
            "legendX": 1252,
            "legendY": 13,
            "labelAlign": "right",
            "labelOffset": -63,
            "labelLimit": 0,
            "rowPadding": 3
          }
        },
        "shape": {
          "field": "model",
          "type": "nominal",
          "scale": {
            "domain": ["ECMWF", "HRRR", "NAM 3 km", "NAM 12 km", "GFS 0.125°", "GFS 0.250°", "NBM", "CANSAC WRF"],
            "range": ["square", "circle", "triangle-up", "triangle-down", "diamond", "M0,-1L0.951,-0.309L0.588,0.809L-0.588,0.809L-0.951,-0.309Z", "M-1,0L1,0M0,-1L0,1M-0.7,-0.7L0.7,0.7M-0.7,0.7L0.7,-0.7", "triangle-down"]
          },
          "legend": {
            "title": null,
            "orient": "none",
            "legendX": 1252,
            "legendY": 13,
            "labelAlign": "right",
            "labelOffset": -63,
            "labelLimit": 0,
            "rowPadding": 3
          }
        },
        "size": {
          "field": "model",
          "type": "nominal",
          "scale": {
            "domain": ["ECMWF", "HRRR", "NAM 3 km", "NAM 12 km", "GFS 0.125°", "GFS 0.250°", "NBM", "CANSAC WRF"],
            "range": [90, 110, 130, 130, 120, 130, 190, 130]
          },
          "legend": {
            "title": null,
            "orient": "none",
            "legendX": 1252,
            "legendY": 13,
            "labelAlign": "right",
            "labelOffset": -63,
            "labelLimit": 0,
            "rowPadding": 3
          }
        }
      }
    },
    {
      "transform": [{"filter": "false"}],
      "mark": {"type": "point"},
      "encoding": {
        "x": {
          "field": "hour",
          "type": "quantitative",
          "axis": {
            "orient": "top",
            "values": [0, 24, 48, 72, 96, 120, 144, 168, 192, 216],
            "labels": false,
            "title": null
          }
        },
        "y": {
          "field": "prob",
          "type": "quantitative",
          "axis": {
            "orient": "right",
            "values": [0, 20, 40, 60, 80, 100],
            "labels": false,
            "title": null
          }
        }
      }
    }
  ],
  "resolve": {"axis": {"x": "independent", "y": "independent"}}
}
